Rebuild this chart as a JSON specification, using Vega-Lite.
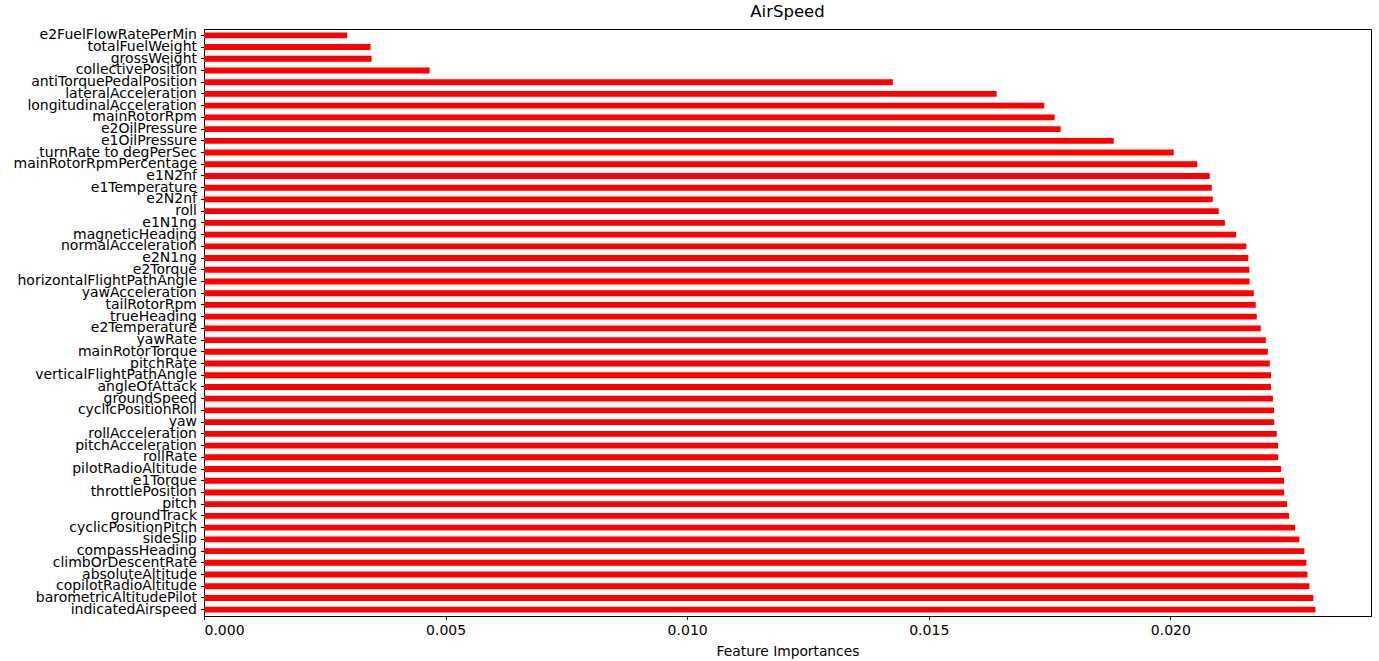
{
  "$schema": "https://vega.github.io/schema/vega-lite/v6.json",
  "autosize": {"type": "none"},
  "padding": {"left": 204, "top": 29, "right": 8, "bottom": 45},
  "width": 1167,
  "height": 587,
  "background": "white",
  "title": {"text": "AirSpeed", "fontSize": 16.5, "font": "DejaVu Sans", "fontWeight": "normal", "color": "black", "offset": 7, "anchor": "middle"},
  "config": {
    "font": "DejaVu Sans",
    "view": {"stroke": "black", "strokeWidth": 1},
    "axis": {
      "grid": false,
      "domainColor": "black",
      "domainWidth": 1,
      "tickColor": "black",
      "tickSize": 3.5,
      "tickWidth": 1,
      "labelPadding": 4,
      "labelColor": "black",
      "labelFont": "DejaVu Sans",
      "labelFontSize": 14,
      "titleFont": "DejaVu Sans",
      "titleFontSize": 13.8,
      "titleFontWeight": "normal",
      "titleColor": "black"
    }
  },
  "data": {
    "values": [
      {"feature": "e2FuelFlowRatePerMin", "importance": 0.002965},
      {"feature": "totalFuelWeight", "importance": 0.003448},
      {"feature": "grossWeight", "importance": 0.003469},
      {"feature": "collectivePosition", "importance": 0.004670},
      {"feature": "antiTorquePedalPosition", "importance": 0.014257},
      {"feature": "lateralAcceleration", "importance": 0.016405},
      {"feature": "longitudinalAcceleration", "importance": 0.017391},
      {"feature": "mainRotorRpm", "importance": 0.017606},
      {"feature": "e2OilPressure", "importance": 0.017730},
      {"feature": "e1OilPressure", "importance": 0.018828},
      {"feature": "turnRate to degPerSec", "importance": 0.020070},
      {"feature": "mainRotorRpmPercentage", "importance": 0.020559},
      {"feature": "e1N2nf", "importance": 0.020816},
      {"feature": "e1Temperature", "importance": 0.020857},
      {"feature": "e2N2nf", "importance": 0.020878},
      {"feature": "roll", "importance": 0.021002},
      {"feature": "e1N1ng", "importance": 0.021129},
      {"feature": "magneticHeading", "importance": 0.021361},
      {"feature": "normalAcceleration", "importance": 0.021574},
      {"feature": "e2N1ng", "importance": 0.021615},
      {"feature": "e2Torque", "importance": 0.021636},
      {"feature": "horizontalFlightPathAngle", "importance": 0.021640},
      {"feature": "yawAcceleration", "importance": 0.021727},
      {"feature": "tailRotorRpm", "importance": 0.021768},
      {"feature": "trueHeading", "importance": 0.021789},
      {"feature": "e2Temperature", "importance": 0.021872},
      {"feature": "yawRate", "importance": 0.021976},
      {"feature": "mainRotorTorque", "importance": 0.022017},
      {"feature": "pitchRate", "importance": 0.022059},
      {"feature": "verticalFlightPathAngle", "importance": 0.022085},
      {"feature": "angleOfAttack", "importance": 0.022083},
      {"feature": "groundSpeed", "importance": 0.022123},
      {"feature": "cyclicPositionRoll", "importance": 0.022147},
      {"feature": "yaw", "importance": 0.022150},
      {"feature": "rollAcceleration", "importance": 0.022203},
      {"feature": "pitchAcceleration", "importance": 0.022230},
      {"feature": "rollRate", "importance": 0.022232},
      {"feature": "pilotRadioAltitude", "importance": 0.022292},
      {"feature": "e1Torque", "importance": 0.022354},
      {"feature": "throttlePosition", "importance": 0.022356},
      {"feature": "pitch", "importance": 0.022417},
      {"feature": "groundTrack", "importance": 0.022458},
      {"feature": "cyclicPositionPitch", "importance": 0.022582},
      {"feature": "sideSlip", "importance": 0.022671},
      {"feature": "compassHeading", "importance": 0.022775},
      {"feature": "climbOrDescentRate", "importance": 0.022816},
      {"feature": "absoluteAltitude", "importance": 0.022837},
      {"feature": "copilotRadioAltitude", "importance": 0.022878},
      {"feature": "barometricAltitudePilot", "importance": 0.022961},
      {"feature": "indicatedAirspeed", "importance": 0.023003}
    ]
  },
  "mark": {"type": "bar", "color": "#ff0000"},
  "encoding": {
    "y": {
      "field": "feature",
      "type": "nominal",
      "sort": null,
      "scale": {"paddingInner": 0.5, "paddingOuter": 0.29},
      "axis": {"title": null, "labelLimit": 400}
    },
    "x": {
      "field": "importance",
      "type": "quantitative",
      "scale": {"domain": [0, 0.024153], "nice": false, "zero": true},
      "axis": {
        "title": "Feature Importances",
        "values": [0, 0.005, 0.01, 0.015, 0.02],
        "format": ".3f",
        "titlePadding": 7
      }
    }
  }
}
